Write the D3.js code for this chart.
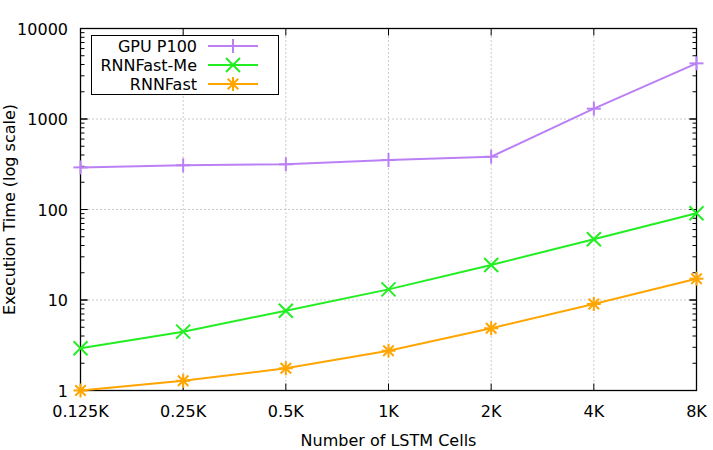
<!DOCTYPE html>
<html><head><meta charset="utf-8">
<script src="https://cdn.jsdelivr.net/npm/d3@7"></script>
<style>body{margin:0;background:#fff}svg{display:block}text{font-family:"DejaVu Sans",sans-serif;font-size:16px;fill:#000}</style>
</head><body>
<svg id="c" width="713" height="450"></svg>
<script>
const categories = ["0.125K","0.25K","0.5K","1K","2K","4K","8K"];
const gpuP100 = [292, 308, 316, 352, 383, 1300, 4120];
const rnnFastMe = [2.93, 4.47, 7.62, 13.1, 24.4, 46.9, 90.8];
const rnnFast = [1.0, 1.28, 1.76, 2.75, 4.87, 9.03, 17.2];
const yTicks = [1, 10, 100, 1000, 10000];
const seriesNames = ["GPU P100", "RNNFast-Me", "RNNFast"];

const svg = d3.select("#c");
const L = 80.5, R = 696.5, T = 28.5, B = 390.5;
const x = d3.scalePoint().domain(categories).range([L, R]);
const y = d3.scaleLog().domain([1, 10000]).range([B, T]);

const series = [
  {name: seriesNames[0], values: gpuP100, color: "#bb80f5", marker: "plus"},
  {name: seriesNames[1], values: rnnFastMe, color: "#22ee22", marker: "cross"},
  {name: seriesNames[2], values: rnnFast, color: "#ffa500", marker: "star"}
];

// grid
const g = svg.append("g");
categories.forEach(c => {
  if (c === categories[0] || c === categories[categories.length-1]) return;
  g.append("line").attr("x1", x(c)).attr("x2", x(c)).attr("y1", T).attr("y2", B)
    .attr("stroke", "#999").attr("stroke-width", 1).attr("stroke-dasharray", "1,3");
});
yTicks.forEach(v => {
  if (v === 1 || v === 10000) return;
  g.append("line").attr("x1", L).attr("x2", R).attr("y1", y(v)).attr("y2", y(v))
    .attr("stroke", "#999").attr("stroke-width", 1).attr("stroke-dasharray", "1,3");
});

// ticks
const tk = svg.append("g").attr("stroke", "#000").attr("stroke-width", 1);
categories.forEach(c => {
  tk.append("line").attr("x1", x(c)).attr("x2", x(c)).attr("y1", B).attr("y2", B - 7);
  tk.append("line").attr("x1", x(c)).attr("x2", x(c)).attr("y1", T).attr("y2", T + 7);
});
for (let d = 1; d < 10000; d *= 10) {
  for (let m = 1; m <= 10; m++) {
    const v = d * m;
    const len = (m === 1 || m === 10) ? 7 : 4;
    tk.append("line").attr("x1", L).attr("x2", L + len).attr("y1", y(v)).attr("y2", y(v));
    tk.append("line").attr("x1", R).attr("x2", R - len).attr("y1", y(v)).attr("y2", y(v));
  }
}

// frame
svg.append("rect").attr("x", L).attr("y", T).attr("width", R - L).attr("height", B - T)
  .attr("fill", "none").attr("stroke", "#000").attr("stroke-width", 1.3);

// tick labels
categories.forEach(c => {
  svg.append("text").attr("x", x(c)).attr("y", 417).attr("text-anchor", "middle").text(c);
});
yTicks.forEach(v => {
  svg.append("text").attr("x", 68).attr("y", y(v) + 6).attr("text-anchor", "end").text(v);
});

// axis titles
svg.append("text").attr("x", (L + R) / 2).attr("y", 446).attr("text-anchor", "middle").text("Number of LSTM Cells");
svg.append("text").attr("transform", `translate(15,${(T + B) / 2}) rotate(-90)`).attr("text-anchor", "middle").text("Execution Time (log scale)");

function marker(sel, type, cx, cy, color) {
  const s = 7;
  const gg = sel.append("g").attr("stroke", color).attr("stroke-width", 2).attr("fill", "none");
  const plus = () => {
    gg.append("line").attr("x1", cx - s).attr("x2", cx + s).attr("y1", cy).attr("y2", cy);
    gg.append("line").attr("x1", cx).attr("x2", cx).attr("y1", cy - s).attr("y2", cy + s);
  };
  const cross = (k) => {
    gg.append("line").attr("x1", cx - k).attr("x2", cx + k).attr("y1", cy - k).attr("y2", cy + k);
    gg.append("line").attr("x1", cx - k).attr("x2", cx + k).attr("y1", cy + k).attr("y2", cy - k);
  };
  if (type === "plus") plus();
  else if (type === "cross") cross(s);
  else { plus(); cross(s * 0.75); }
}

const line = d3.line().x((d, i) => x(categories[i])).y(d => y(d));
const plot = svg.append("g");
series.forEach(s => {
  plot.append("path").datum(s.values).attr("d", line).attr("fill", "none")
    .attr("stroke", s.color).attr("stroke-width", 2);
  s.values.forEach((v, i) => marker(plot, s.marker, x(categories[i]), y(v), s.color));
});

// legend
const lg = svg.append("g");
lg.append("rect").attr("x", 91.5).attr("y", 35.5).attr("width", 187).attr("height", 59)
  .attr("fill", "#fff").attr("stroke", "#000").attr("stroke-width", 1);
series.forEach((s, i) => {
  const yy = 46 + i * 19;
  lg.append("text").attr("x", 197).attr("y", yy + 6).attr("text-anchor", "end").text(s.name);
  lg.append("line").attr("x1", 208).attr("x2", 258).attr("y1", yy).attr("y2", yy)
    .attr("stroke", s.color).attr("stroke-width", 2);
  marker(lg, s.marker, 233, yy, s.color);
});
</script>
</body></html>
